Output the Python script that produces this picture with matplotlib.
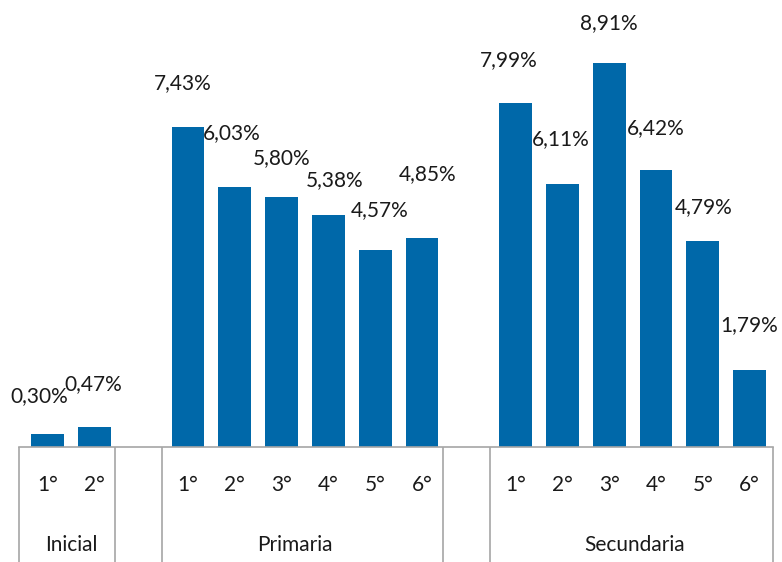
import numpy as np
import matplotlib
matplotlib.use('Agg')
import matplotlib.pyplot as plt
import matplotlib.transforms as mtransforms

## Data
groups = ['Inicial', 'Primaria', 'Secundaria']
grades = [['1°', '2°'],
          ['1°', '2°', '3°', '4°', '5°', '6°'],
          ['1°', '2°', '3°', '4°', '5°', '6°']]
inicial = [0.30, 0.47]
primaria = [7.43, 6.03, 5.80, 5.38, 4.57, 4.85]
secundaria = [7.99, 6.11, 8.91, 6.42, 4.79, 1.79]

# label nudges in pixels (Excel put them slightly off-center)
lab_dx = [-8, -1, -5, -3, 0, 6, 4, 6, -7, -2, 0, 0, 1, 0]
lab_dy = [38, 43, 44, 54, 39, 35, 40, 64, 43, 45, 40, 42, 33, 45]
group_dx = [0, -10, 2]

blue = '#0068a9'
grey = '#a6a6a6'
txt = '#1a1a1a'
plt.rcParams['font.family'] = ['Lato', 'DejaVu Sans']

values = [inicial, primaria, secundaria]
# one empty slot between groups
pos, vals, ticklab, gcenter, seps = [], [], [], [], []
x = 0
for gi, (g, v) in enumerate(zip(grades, values)):
    xs = list(range(x, x + len(v)))
    pos += xs
    vals += v
    ticklab += g
    gcenter.append(np.mean(xs))
    x = xs[-1] + 2
    if gi < len(values) - 1:
        seps += [xs[-1] + 0.45, xs[-1] + 1.45]

W, H = 782, 562
fig = plt.figure(figsize=(W / 100, H / 100), dpi=100)
ax = fig.add_axes([19 / W, 115 / H, 754 / W, 431 / H])
ax.bar(pos, vals, width=0.7, color=blue, zorder=2)
ax.set_xlim(-0.61, 15.5)
ax.set_ylim(0, 10)
for s in ['top', 'right', 'left']:
    ax.spines[s].set_visible(False)
ax.spines['bottom'].set_color(grey)
ax.spines['bottom'].set_linewidth(1.2)
ax.set_yticks([])
ax.set_xticks([])

for i, (p, v) in enumerate(zip(pos, vals)):
    ax.annotate(f'{v:.2f}%'.replace('.', ','), (p, v),
                xytext=(lab_dx[i], lab_dy[i]), textcoords='offset pixels',
                ha='center', va='center', fontsize=15, color=txt)

# multi-level category axis
trans = mtransforms.blended_transform_factory(ax.transData, ax.transAxes)
ybot = -115 / 431
xl, xr = ax.get_xlim()
ax.vlines([xl, xr] + seps, ybot, 0, transform=trans, colors=grey,
          lw=1.2, clip_on=False)
for p, t in zip(pos, ticklab):
    ax.text(p, -38 / 431, t, transform=trans, ha='center', va='center',
            fontsize=15, color=txt)
for c, g, d in zip(gcenter, groups, group_dx):
    ax.annotate(g, (c, -98 / 431), xycoords=trans, xytext=(d, 0),
                textcoords='offset pixels', ha='center', va='center',
                fontsize=15, color=txt)

fig.savefig('out.png', dpi=100)
